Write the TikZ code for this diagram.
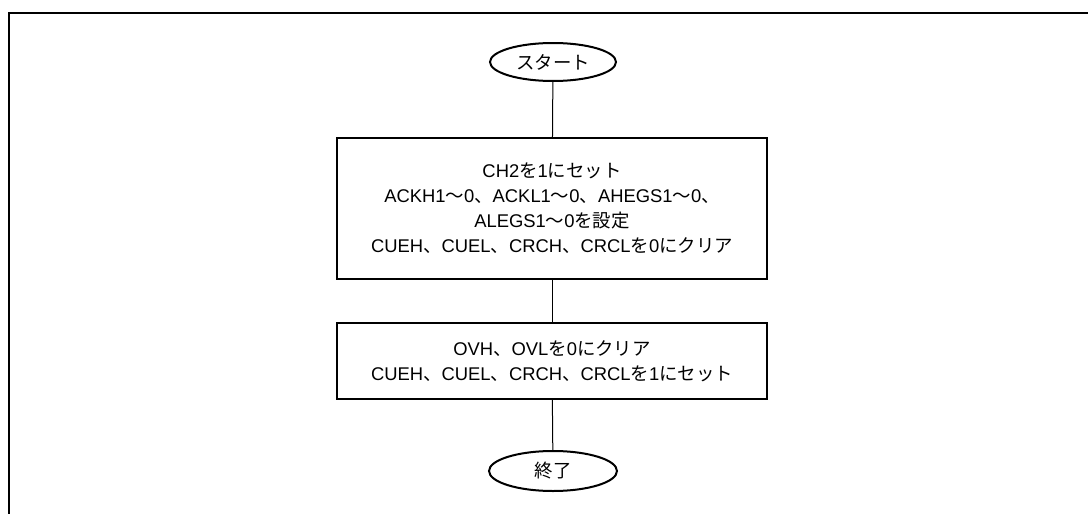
\documentclass[tikz,border=0pt]{standalone}
\usepackage{fontspec}
\setmainfont{Liberation Sans}
\newfontfamily\jpfont{Noto Sans CJK JP}
\newcommand\J[1]{{\jpfont #1}}
\usetikzlibrary{shapes.geometric}
\tikzset{
  term/.style={draw, ellipse, line width=2pt, inner sep=0pt},
  procbox/.style={draw, rectangle, line width=2pt, minimum width=430pt, inner sep=0pt, align=center},
  conn/.style={line width=1pt}
}
\begin{document}
\begin{tikzpicture}[x=1pt,y=-1pt, font=\fontsize{18.4}{25}\selectfont]
\useasboundingbox (0,0) rectangle (1088,514);
\draw[line width=2.6pt] (9,514) -- (9,13) -- (1088,13);
\node[term, minimum width=126pt, minimum height=38pt] (start) at (553,62) {\J{スタート}};
\node[procbox, minimum height=141pt] (b1) at (552,208.5) {CH2\J{を}1\J{にセット}\\
ACKH1\J{〜}0\J{、}ACKL1\J{〜}0\J{、}AHEGS1\J{〜}0\J{、}\\
ALEGS1\J{〜}0\J{を設定}\\
CUEH\J{、}CUEL\J{、}CRCH\J{、}CRCL\J{を}0\J{にクリア}};
\node[procbox, minimum height=76pt] (b2) at (552,361) {OVH\J{、}OVL\J{を}0\J{にクリア}\\
CUEH\J{、}CUEL\J{、}CRCH\J{、}CRCL\J{を}1\J{にセット}};
\node[term, minimum width=128pt, minimum height=40pt] (end) at (553,471) {\J{終了}};
\draw[conn] (start) -- (b1);
\draw[conn] (b1) -- (b2);
\draw[conn] (b2) -- (end);
\end{tikzpicture}
\end{document}
